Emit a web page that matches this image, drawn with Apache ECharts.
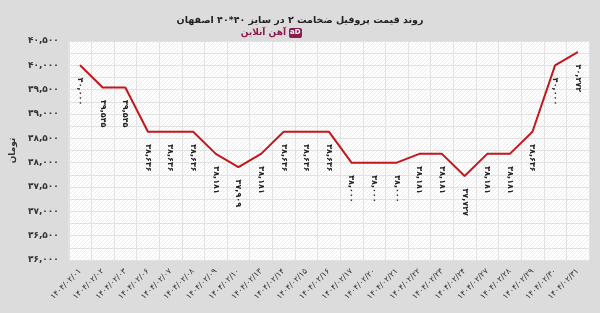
<!DOCTYPE html>
<html><head><meta charset="utf-8">
<script src="https://cdn.jsdelivr.net/npm/echarts@6/dist/echarts.min.js"></script>
<style>html,body{margin:0;padding:0;background:#dcdcdc}#c{width:600px;height:313px}</style>
</head><body><div id="c"></div>
<script>
const titleText = 'روند قیمت پروفیل ضخامت ۲ در سایز ۴۰*۴۰ اصفهان';
const brandText = 'آهن آنلاین';
const unitText = 'تومان';
const categories = ['1404/02/01','1404/02/02','1404/02/03','1404/02/06','1404/02/07','1404/02/08','1404/02/09','1404/02/10','1404/02/13','1404/02/14','1404/02/15','1404/02/16','1404/02/17','1404/02/20','1404/02/21','1404/02/22','1404/02/23','1404/02/24','1404/02/27','1404/02/28','1404/02/29','1404/02/30','1404/02/31'];
const prices = [40000,39545,39545,38636,38636,38636,38181,37909,38181,38636,38636,38636,38000,38000,38000,38181,38181,37727,38181,38181,38636,40000,40272];
const yMin = 36000, yMax = 40500, yStep = 500;

const fa = s => String(s).replace(/[0-9]/g, d => '۰۱۲۳۴۵۶۷۸۹'[d]);
const fmt = v => fa(v.toLocaleString('en-US'));

// hatch pattern
const pc = document.createElement('canvas');
pc.width = 4; pc.height = 4;
const px = pc.getContext('2d');
px.fillStyle = '#ffffff'; px.fillRect(0,0,4,4);
px.strokeStyle = '#ededed'; px.lineWidth = 1;
px.beginPath(); px.moveTo(0,4); px.lineTo(4,0); px.stroke();

const chart = echarts.init(document.getElementById('c'));
const FONT = 'DejaVu Sans';
chart.setOption({
  backgroundColor: '#dcdcdc',
  animation: false,
  title: [{
    text: titleText, left: 'center', top: 11,
    textStyle: {fontFamily: FONT, fontSize: 9.5, fontWeight: 'bold', color: '#222'}
  }],
  graphic: [
    {type: 'text', x: 286, y: 28, style: {text: brandText, font: 'bold 9px "DejaVu Sans"', fill: '#8e1b4f', textAlign: 'right'}},
    {type: 'rect', x: 289, y: 28, shape: {width: 13, height: 10, r: 2}, style: {fill: '#8e1b4f'}},
    {type: 'text', x: 290, y: 29, style: {text: 'aD', font: 'bold 7px "DejaVu Sans"', fill: '#ffffff'}}
  ],
  grid: {left: 68, right: 11, top: 41, bottom: 53, show: true, borderWidth: 0,
    backgroundColor: {image: pc, repeat: 'repeat'}},
  xAxis: [{
    type: 'category', data: categories, boundaryGap: true,
    axisLine: {show: false}, axisTick: {show: false},
    splitLine: {show: true, interval: 0, lineStyle: {color: '#e2e2e2', width: 1}},
    axisLabel: {interval: 0, rotate: 45, fontFamily: FONT, fontSize: 8, color: '#333', margin: 10,
      formatter: v => fa(v)}
  }, {
    type: 'value', min: 0, max: categories.length, interval: 0.5, show: false,
    splitLine: {show: true, lineStyle: {color: '#e2e2e2', width: 1}}
  }],
  yAxis: {
    type: 'value', min: yMin, max: yMax, interval: yStep,
    name: unitText, nameLocation: 'middle', nameGap: 38, nameRotate: 90,
    nameTextStyle: {fontFamily: FONT, fontSize: 9, fontWeight: 'bold', color: '#333'},
    axisLine: {show: false}, axisTick: {show: false},
    splitLine: {show: true, lineStyle: {color: '#e2e2e2'}},
    minorTick: {show: false, splitNumber: 2},
    minorSplitLine: {show: true, lineStyle: {color: '#e2e2e2'}},
    axisLabel: {fontFamily: FONT, fontSize: 9, fontWeight: 'bold', color: '#333', margin: 10,
      formatter: v => fmt(v)}
  },
  series: [{
    type: 'line', data: prices, xAxisIndex: 0,
    symbol: 'circle', symbolSize: 1, showSymbol: true,
    itemStyle: {color: '#c4161c'},
    lineStyle: {color: '#c4161c', width: 2},
    label: {show: true, position: 'bottom', distance: 12, rotate: -90, align: 'left', verticalAlign: 'middle',
      fontFamily: FONT, fontSize: 8, fontWeight: 'bold', color: '#222',
      formatter: p => fmt(p.value)}
  }]
});
</script></body></html>
